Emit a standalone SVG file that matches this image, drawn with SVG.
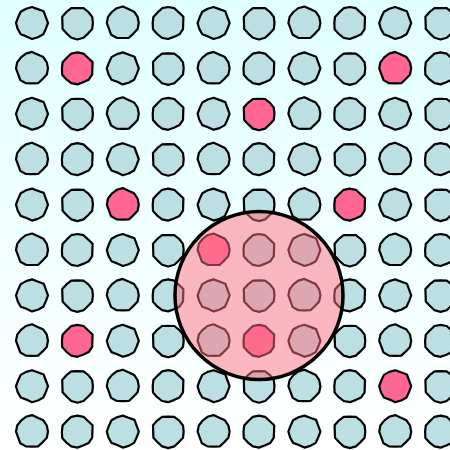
<svg xmlns="http://www.w3.org/2000/svg" xmlns:xlink="http://www.w3.org/1999/xlink" width="450" height="450" viewBox="0 0 450 450">
<defs>
<linearGradient id="bg" x1="0" y1="0" x2="0" y2="1">
<stop offset="0" stop-color="#e0ffff"/>
<stop offset="1" stop-color="#ffffff"/>
</linearGradient>
<path id="a" d="M16,0 L13.9,5.7 L11.3,11.3 L5.9,14.3 L0,16 L-5.6,13.4 L-11.3,11.3 L-14.3,5.9 L-16,0 L-13.9,-5.7 L-11.3,-11.3 L-5.9,-14.3 L0,-16 L5.7,-13.9 L11.7,-11.7 L13.9,-5.7 Z"/>
<path id="b" d="M15.5,0 L14.8,6.1 L10.6,10.6 L6.1,14.8 L0,16.5 L-6.1,14.8 L-10.6,10.6 L-14.8,6.1 L-15,0 L-15.2,-6.3 L-11,-11 L-6.1,-14.8 L0,-15 L6.1,-14.8 L11,-11 L14.8,-6.1 Z"/>
<path id="c" d="M16,0 L14.8,6.1 L10.6,10.6 L6.1,14.8 L0,15 L-6.1,14.8 L-11.7,11.7 L-13.9,5.7 L-16,0 L-14.8,-6.1 L-11,-11 L-6.1,-14.8 L0,-16.5 L5.7,-13.9 L11.3,-11.3 L14.8,-6.1 Z"/>
<path id="d" d="M15,0 L14.8,6.1 L11.3,11.3 L5.7,13.9 L0,16 L-6.1,14.8 L-11,11 L-15.2,6.3 L-15.5,0 L-14.8,-6.1 L-10.6,-10.6 L-6.1,-14.8 L0,-16 L6.1,-14.8 L10.6,-10.6 L15.2,-6.3 Z"/>
</defs>
<style>
use{stroke:#000;stroke-width:2.2;stroke-linejoin:round}
.b{fill:#bbdfe3}
.p{fill:#ff6694}
.lens{fill:#ff7080;fill-opacity:0.5;stroke:#000;stroke-width:3.5}
</style>
<rect width="450" height="450" fill="url(#bg)"/>
<g id="grid">
<g id="n0-0"><use href="#a" x="32" y="23" class="b"/></g>
<g id="n0-1"><use href="#b" x="77.4" y="23" class="b"/></g>
<g id="n0-2"><use href="#c" x="122.8" y="23" class="b"/></g>
<g id="n0-3"><use href="#d" x="168.2" y="23" class="b"/></g>
<g id="n0-4"><use href="#a" x="213.6" y="23" class="b"/></g>
<g id="n0-5"><use href="#b" x="259" y="23" class="b"/></g>
<g id="n0-6"><use href="#c" x="304.4" y="23" class="b"/></g>
<g id="n0-7"><use href="#d" x="349.8" y="23" class="b"/></g>
<g id="n0-8"><use href="#a" x="395.2" y="23" class="b"/></g>
<g id="n0-9"><use href="#b" x="440.6" y="23" class="b"/></g>
<g id="n1-0"><use href="#c" x="32" y="68.4" class="b"/></g>
<g id="n1-1"><use href="#d" x="77.4" y="68.4" class="p"/></g>
<g id="n1-2"><use href="#a" x="122.8" y="68.4" class="b"/></g>
<g id="n1-3"><use href="#b" x="168.2" y="68.4" class="b"/></g>
<g id="n1-4"><use href="#c" x="213.6" y="68.4" class="b"/></g>
<g id="n1-5"><use href="#d" x="259" y="68.4" class="b"/></g>
<g id="n1-6"><use href="#a" x="304.4" y="68.4" class="b"/></g>
<g id="n1-7"><use href="#b" x="349.8" y="68.4" class="b"/></g>
<g id="n1-8"><use href="#c" x="395.2" y="68.4" class="p"/></g>
<g id="n1-9"><use href="#d" x="440.6" y="68.4" class="b"/></g>
<g id="n2-0"><use href="#a" x="32" y="113.8" class="b"/></g>
<g id="n2-1"><use href="#b" x="77.4" y="113.8" class="b"/></g>
<g id="n2-2"><use href="#c" x="122.8" y="113.8" class="b"/></g>
<g id="n2-3"><use href="#d" x="168.2" y="113.8" class="b"/></g>
<g id="n2-4"><use href="#a" x="213.6" y="113.8" class="b"/></g>
<g id="n2-5"><use href="#b" x="259" y="113.8" class="p"/></g>
<g id="n2-6"><use href="#c" x="304.4" y="113.8" class="b"/></g>
<g id="n2-7"><use href="#d" x="349.8" y="113.8" class="b"/></g>
<g id="n2-8"><use href="#a" x="395.2" y="113.8" class="b"/></g>
<g id="n2-9"><use href="#b" x="440.6" y="113.8" class="b"/></g>
<g id="n3-0"><use href="#c" x="32" y="159.2" class="b"/></g>
<g id="n3-1"><use href="#d" x="77.4" y="159.2" class="b"/></g>
<g id="n3-2"><use href="#a" x="122.8" y="159.2" class="b"/></g>
<g id="n3-3"><use href="#b" x="168.2" y="159.2" class="b"/></g>
<g id="n3-4"><use href="#c" x="213.6" y="159.2" class="b"/></g>
<g id="n3-5"><use href="#d" x="259" y="159.2" class="b"/></g>
<g id="n3-6"><use href="#a" x="304.4" y="159.2" class="b"/></g>
<g id="n3-7"><use href="#b" x="349.8" y="159.2" class="b"/></g>
<g id="n3-8"><use href="#c" x="395.2" y="159.2" class="b"/></g>
<g id="n3-9"><use href="#d" x="440.6" y="159.2" class="b"/></g>
<g id="n4-0"><use href="#a" x="32" y="204.6" class="b"/></g>
<g id="n4-1"><use href="#b" x="77.4" y="204.6" class="b"/></g>
<g id="n4-2"><use href="#c" x="122.8" y="204.6" class="p"/></g>
<g id="n4-3"><use href="#d" x="168.2" y="204.6" class="b"/></g>
<g id="n4-4"><use href="#a" x="213.6" y="204.6" class="b"/></g>
<g id="n4-5"><use href="#b" x="259" y="204.6" class="b"/></g>
<g id="n4-6"><use href="#c" x="304.4" y="204.6" class="b"/></g>
<g id="n4-7"><use href="#d" x="349.8" y="204.6" class="p"/></g>
<g id="n4-8"><use href="#a" x="395.2" y="204.6" class="b"/></g>
<g id="n4-9"><use href="#b" x="440.6" y="204.6" class="b"/></g>
<g id="n5-0"><use href="#c" x="32" y="250" class="b"/></g>
<g id="n5-1"><use href="#d" x="77.4" y="250" class="b"/></g>
<g id="n5-2"><use href="#a" x="122.8" y="250" class="b"/></g>
<g id="n5-3"><use href="#b" x="168.2" y="250" class="b"/></g>
<g id="n5-4"><use href="#c" x="213.6" y="250" class="p"/></g>
<g id="n5-5"><use href="#d" x="259" y="250" class="b"/></g>
<g id="n5-6"><use href="#a" x="304.4" y="250" class="b"/></g>
<g id="n5-7"><use href="#b" x="349.8" y="250" class="b"/></g>
<g id="n5-8"><use href="#c" x="395.2" y="250" class="b"/></g>
<g id="n5-9"><use href="#d" x="440.6" y="250" class="b"/></g>
<g id="n6-0"><use href="#a" x="32" y="295.4" class="b"/></g>
<g id="n6-1"><use href="#b" x="77.4" y="295.4" class="b"/></g>
<g id="n6-2"><use href="#c" x="122.8" y="295.4" class="b"/></g>
<g id="n6-3"><use href="#d" x="168.2" y="295.4" class="b"/></g>
<g id="n6-4"><use href="#a" x="213.6" y="295.4" class="b"/></g>
<g id="n6-5"><use href="#b" x="259" y="295.4" class="b"/></g>
<g id="n6-6"><use href="#c" x="304.4" y="295.4" class="b"/></g>
<g id="n6-7"><use href="#d" x="349.8" y="295.4" class="b"/></g>
<g id="n6-8"><use href="#a" x="395.2" y="295.4" class="b"/></g>
<g id="n6-9"><use href="#b" x="440.6" y="295.4" class="b"/></g>
<g id="n7-0"><use href="#c" x="32" y="340.8" class="b"/></g>
<g id="n7-1"><use href="#d" x="77.4" y="340.8" class="p"/></g>
<g id="n7-2"><use href="#a" x="122.8" y="340.8" class="b"/></g>
<g id="n7-3"><use href="#b" x="168.2" y="340.8" class="b"/></g>
<g id="n7-4"><use href="#c" x="213.6" y="340.8" class="b"/></g>
<g id="n7-5"><use href="#d" x="259" y="340.8" class="p"/></g>
<g id="n7-6"><use href="#a" x="304.4" y="340.8" class="b"/></g>
<g id="n7-7"><use href="#b" x="349.8" y="340.8" class="b"/></g>
<g id="n7-8"><use href="#c" x="395.2" y="340.8" class="b"/></g>
<g id="n7-9"><use href="#d" x="440.6" y="340.8" class="b"/></g>
<g id="n8-0"><use href="#a" x="32" y="386.2" class="b"/></g>
<g id="n8-1"><use href="#b" x="77.4" y="386.2" class="b"/></g>
<g id="n8-2"><use href="#c" x="122.8" y="386.2" class="b"/></g>
<g id="n8-3"><use href="#d" x="168.2" y="386.2" class="b"/></g>
<g id="n8-4"><use href="#a" x="213.6" y="386.2" class="b"/></g>
<g id="n8-5"><use href="#b" x="259" y="386.2" class="b"/></g>
<g id="n8-6"><use href="#c" x="304.4" y="386.2" class="b"/></g>
<g id="n8-7"><use href="#d" x="349.8" y="386.2" class="b"/></g>
<g id="n8-8"><use href="#a" x="395.2" y="386.2" class="p"/></g>
<g id="n8-9"><use href="#b" x="440.6" y="386.2" class="b"/></g>
<g id="n9-0"><use href="#c" x="32" y="431.6" class="b"/></g>
<g id="n9-1"><use href="#d" x="77.4" y="431.6" class="b"/></g>
<g id="n9-2"><use href="#a" x="122.8" y="431.6" class="b"/></g>
<g id="n9-3"><use href="#b" x="168.2" y="431.6" class="b"/></g>
<g id="n9-4"><use href="#c" x="213.6" y="431.6" class="b"/></g>
<g id="n9-5"><use href="#d" x="259" y="431.6" class="b"/></g>
<g id="n9-6"><use href="#a" x="304.4" y="431.6" class="b"/></g>
<g id="n9-7"><use href="#b" x="349.8" y="431.6" class="b"/></g>
<g id="n9-8"><use href="#c" x="395.2" y="431.6" class="b"/></g>
<g id="n9-9"><use href="#d" x="440.6" y="431.6" class="b"/></g>
</g>
<g id="lens"><circle cx="259" cy="295.4" r="84" class="lens"/></g>
</svg>
